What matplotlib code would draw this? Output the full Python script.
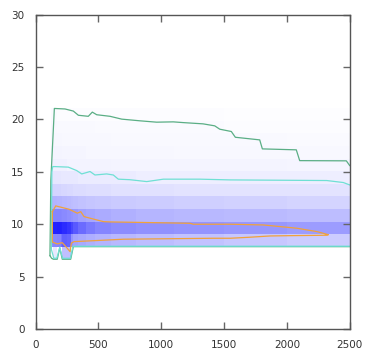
import matplotlib
matplotlib.use("Agg")
import matplotlib.pyplot as plt
import numpy as np
from matplotlib.colors import LinearSegmentedColormap

# density grid: column edges along x, row edges along y (bottom -> top)
X_EDGES = [126, 142, 173, 200, 213, 250, 280, 300, 340, 400, 470, 600, 800, 1100, 1500, 2000, 2500]
Y_EDGES = [6.66, 7.86, 9.06, 10.26, 11.46, 12.66, 13.86, 15.06, 16.26, 17.46, 18.66, 19.86, 21.06]
DENSITY = [
    [0.00, 0.09, 0.00, 0.00, 0.25, 0.25, 0.00, 0.00, 0.00, 0.00, 0.00, 0.00, 0.00, 0.00, 0.00, 0.00],
    [0.45, 0.47, 0.48, 0.55, 0.62, 0.60, 0.42, 0.36, 0.34, 0.32, 0.30, 0.28, 0.26, 0.24, 0.22, 0.20],
    [0.80, 0.86, 0.87, 0.86, 0.83, 0.79, 0.72, 0.65, 0.58, 0.52, 0.48, 0.45, 0.43, 0.42, 0.41, 0.39],
    [0.47, 0.48, 0.48, 0.47, 0.46, 0.44, 0.42, 0.40, 0.37, 0.35, 0.33, 0.31, 0.29, 0.28, 0.27, 0.26],
    [0.30, 0.30, 0.29, 0.29, 0.28, 0.27, 0.26, 0.25, 0.24, 0.23, 0.22, 0.21, 0.20, 0.19, 0.18, 0.17],
    [0.17, 0.17, 0.17, 0.16, 0.16, 0.15, 0.15, 0.14, 0.14, 0.13, 0.13, 0.12, 0.12, 0.11, 0.11, 0.11],
    [0.10, 0.10, 0.10, 0.09, 0.09, 0.09, 0.09, 0.09, 0.08, 0.08, 0.08, 0.08, 0.07, 0.07, 0.07, 0.07],
    [0.06, 0.06, 0.06, 0.06, 0.06, 0.05, 0.05, 0.05, 0.05, 0.05, 0.05, 0.045, 0.045, 0.045, 0.045, 0.04],
    [0.045, 0.045, 0.045, 0.045, 0.04, 0.04, 0.04, 0.04, 0.04, 0.035, 0.035, 0.035, 0.035, 0.03, 0.03, 0.03],
    [0.035, 0.035, 0.035, 0.035, 0.03, 0.03, 0.03, 0.03, 0.03, 0.03, 0.03, 0.025, 0.025, 0.025, 0.025, 0.02],
    [0.03, 0.03, 0.025, 0.025, 0.025, 0.025, 0.025, 0.025, 0.025, 0.025, 0.02, 0.02, 0.02, 0.02, 0.015, 0.015],
    [0.02, 0.02, 0.015, 0.015, 0.015, 0.015, 0.015, 0.015, 0.015, 0.015, 0.015, 0.015, 0.012, 0.012, 0.01, 0.01],
]

# outer (green) contour: top edge and bottom edge
GREEN_TOP_X = [115, 122, 150, 235, 301, 341, 420, 452, 487, 593, 686, 831, 964, 1096, 1175, 1333,
               1426, 1466, 1558, 1590, 1784, 1805, 2075, 2102, 2473, 2500]
GREEN_TOP_Y = [7.0, 14.2, 21.05, 21.0, 20.8, 20.4, 20.3, 20.7, 20.45, 20.3, 20.03, 19.87, 19.74, 19.77,
               19.7, 19.58, 19.39, 19.07, 18.85, 18.3, 18.05, 17.19, 17.1, 16.07, 16.05, 15.6]
GREEN_BOT_X = [115, 128, 142, 173, 193, 213, 280, 301, 2500]
GREEN_BOT_Y = [7.0, 6.75, 6.66, 6.66, 7.74, 6.66, 6.66, 7.86, 7.86]

# middle (cyan) contour
CYAN_TOP_X = [126, 130, 137, 155, 261, 328, 368, 434, 473, 566, 619, 659, 750, 885, 1017, 1309,
              1548, 2317, 2449, 2500]
CYAN_TOP_Y = [7.6, 15.0, 15.5, 15.5, 15.45, 15.12, 14.8, 15.03, 14.7, 14.8, 14.7, 14.3, 14.25, 14.07,
              14.3, 14.3, 14.23, 14.17, 13.98, 13.75]
CYAN_BOT_X = [126, 140, 145, 170, 193, 215, 278, 298, 2500]
CYAN_BOT_Y = [7.6, 7.0, 6.75, 6.75, 7.8, 6.75, 6.75, 7.9, 7.9]

# inner (orange) contour, closed loop
ORANGE_X = [134, 161, 267, 333, 360, 386, 465, 540, 593, 752, 1229, 1256, 1548, 1813, 2078, 2238, 2330,
            2317, 2025, 1866, 1707, 1548, 1415, 699, 465, 306, 285, 275, 253, 213, 173, 134, 134]
ORANGE_Y = [11.2, 11.75, 11.43, 11.05, 11.2, 10.73, 10.48, 10.25, 10.22, 10.19, 10.09, 10.0, 10.0, 9.93,
            9.62, 9.3, 9.0, 8.95, 8.91, 8.88, 8.76, 8.66, 8.66, 8.57, 8.43, 8.34, 8.19, 7.38, 7.7, 8.24,
            8.12, 8.3, 11.2]

X_TICKS = [0, 500, 1000, 1500, 2000, 2500]
Y_TICKS = [0, 5, 10, 15, 20, 25, 30]

cmap = LinearSegmentedColormap.from_list("wb", ["#ffffff", "#0000ff"])

fig = plt.figure(figsize=(3.66, 3.58), dpi=100)
ax = fig.add_axes([0.097, 0.081, 0.8585, 0.878])

ax.pcolormesh(X_EDGES, Y_EDGES, np.array(DENSITY), cmap=cmap, vmin=0, vmax=1,
              shading="flat", linewidth=0, antialiased=False)

ax.plot(GREEN_TOP_X, GREEN_TOP_Y, color="#5aae85", lw=0.9)
ax.plot(GREEN_BOT_X, GREEN_BOT_Y, color="#5aae85", lw=0.9)
ax.plot(CYAN_TOP_X, CYAN_TOP_Y, color="#6fe0d4", lw=0.9)
ax.plot(CYAN_BOT_X, CYAN_BOT_Y, color="#6fe0d4", lw=0.9)
ax.plot(ORANGE_X, ORANGE_Y, color="#f0a23c", lw=0.9)

ax.set_xlim(0, 2500)
ax.set_ylim(0, 30)
ax.set_xticks(X_TICKS)
ax.set_yticks(Y_TICKS)
ax.tick_params(direction="in", top=True, right=True, length=5, width=1, color="#666666",
               labelsize=7.5, labelcolor="#333333", pad=8)
for s in ax.spines.values():
    s.set_color("#555555")
    s.set_linewidth(1)

fig.savefig("out.png", dpi=100, facecolor="white")
